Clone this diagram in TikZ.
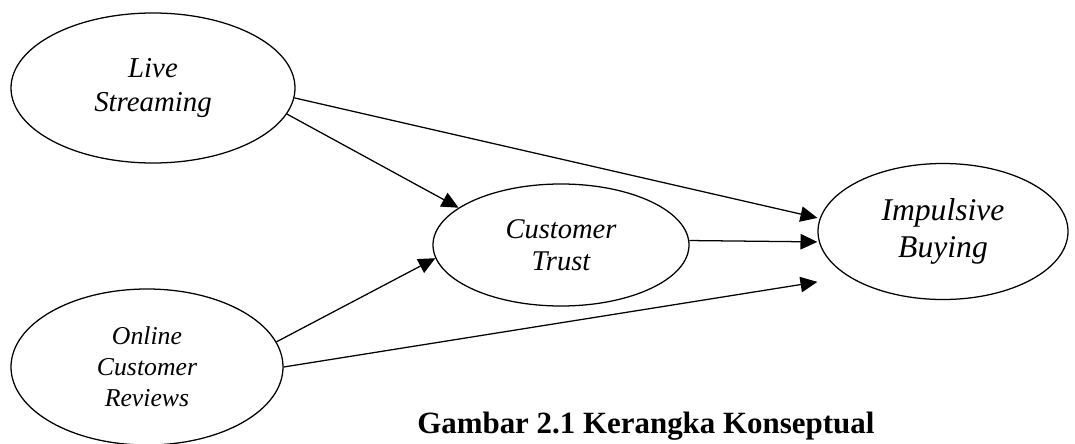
\documentclass[tikz,border=0pt]{standalone}
\usepackage{fontspec}
\setmainfont{Liberation Serif}
\usetikzlibrary{positioning,calc,arrows.meta,shapes.geometric}
\tikzset{
  var/.style={ellipse,draw=black,line width=0.9pt,inner sep=0pt,align=center},
  arr/.style={draw=black,line width=0.9pt,-{Triangle[length=12pt,width=11pt]}},
  capt/.style={font=\fontsize{22}{26}\selectfont\bfseries,inner sep=0pt,anchor=base west},
}

\begin{document}
\begin{tikzpicture}
\useasboundingbox (0,0) rectangle (26.875,11.075);
% variables
\node[var,minimum width=7.1cm,minimum height=3.75cm,
  font=\fontsize{20.5}{24}\selectfont\itshape] (ls) at (3.825,8.875) {Live\\Streaming};
\node[var,minimum width=6.8cm,minimum height=3.9cm,
  font=\fontsize{18.3}{22}\selectfont\itshape] (ocr) at (3.675,1.9) {Online\\Customer\\Reviews};
\node[var,minimum width=6.4cm,minimum height=3.05cm,
  font=\fontsize{20.3}{22.8}\selectfont\itshape] (ct) at (14.025,4.95) {Customer\\Trust};
\node[var,minimum width=6.25cm,minimum height=3.4cm,
  font=\fontsize{22.5}{26}\selectfont\itshape] (ib) at (23.575,5.2875) {Impulsive\\Buying};
% paths
\draw[arr] (ls.-4) -- ($(ib.west)+(0,0.34)$);
\draw[arr] (ls.-11) -- (ct.160);
\draw[arr] (ocr.11) -- (ct.186);
\draw[arr] (ocr.east) -- ($(ib.west)+(0,-1.26)$);
\draw[arr] (ct.2) -- ($(ib.west)+(0,-0.26)$);
% caption
\node[capt] (cap) at (10.425,0.25) {Gambar 2.1 Kerangka Konseptual};
\end{tikzpicture}
\end{document}
